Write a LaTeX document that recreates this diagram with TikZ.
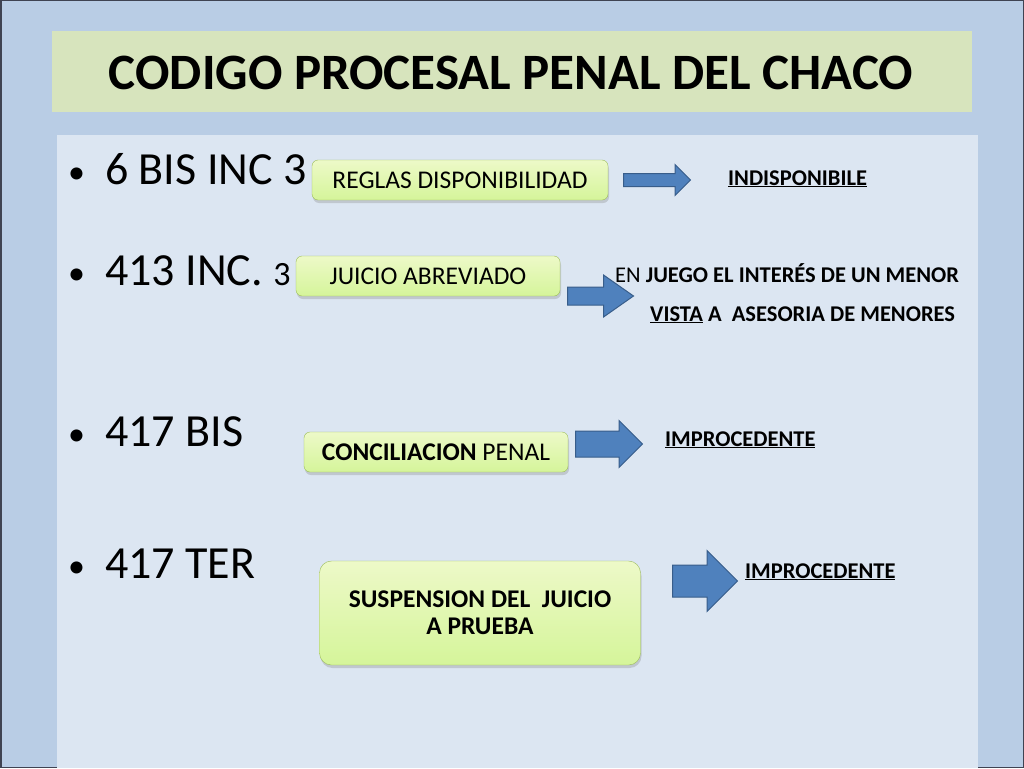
\documentclass[tikz,border=0pt]{standalone}
\usepackage{fontspec}
\setmainfont{Carlito}
\usepackage{tikz}
\usetikzlibrary{shapes.geometric, shapes.arrows, shadows}
\definecolor{slideblue}{HTML}{B9CDE5}
\definecolor{slideframe}{HTML}{3F4352}
\definecolor{panelblue}{HTML}{DCE6F2}
\definecolor{titlegreen}{HTML}{D7E4BD}
\definecolor{boxtop}{HTML}{EDF9C8}
\definecolor{boxbottom}{HTML}{D5F59A}
\definecolor{boxline}{HTML}{9BBB59}
\definecolor{arrowfill}{HTML}{4F81BD}
\definecolor{arrowline}{HTML}{385D8A}
\tikzstyle{greenbox} = [rectangle, rounded corners=6pt, draw=boxline, top color=boxtop, bottom color=boxbottom, inner sep=0pt, text centered, drop shadow={opacity=0.3, shadow xshift=1pt, shadow yshift=-3pt}, font=\fontsize{25.5}{27}\selectfont]
\tikzstyle{bluearrow} = [single arrow, draw=arrowline, fill=arrowfill, line width=1pt, inner xsep=0pt, single arrow tip angle=90, anchor=tail]
\tikzstyle{bullettext} = [anchor=base west, inner sep=0pt, font=\fontsize{46}{46}\selectfont]
\tikzstyle{result} = [anchor=base west, inner sep=0pt, font=\bfseries\fontsize{22.5}{24}\selectfont]

\begin{document}
\begin{tikzpicture}[x=1pt, y=-1pt]
    \useasboundingbox (0,0) rectangle (1024,768);
    % slide background
    \fill[slideblue] (0,0) rectangle (1024,768);
    \draw[slideframe, line width=1.5pt] (0.75,0.75) rectangle (1023.25,767.25);
    \node (panel) [rectangle, fill=panelblue, minimum width=921pt, minimum height=633pt, inner sep=0pt, anchor=north west] at (57,135) {};
    \node (titlebar) [rectangle, fill=titlegreen, minimum width=920pt, minimum height=81pt, inner sep=0pt, anchor=north west] at (52,31) {};
    \node (title) [font=\bfseries\fontsize{51}{51}\selectfont, anchor=base] at (511,89) {CODIGO PROCESAL PENAL DEL CHACO};

    % bullets
    \foreach \y/\name in {183/b1, 284/b2, 445/b3, 577/b4}
        \node (\name) [bullettext, font=\fontsize{34}{34}\selectfont] at (68,\y) {\textbullet};
    \node (bis6) [bullettext] at (105,184) {6 BIS INC 3};
    \node (inc413) [bullettext] at (105,285) {413 INC. {\fontsize{34}{34}\selectfont 3}};
    \node (bis417) [bullettext] at (105,446) {417 BIS};
    \node (ter417) [bullettext] at (105,578) {417 TER};

    % boxes
    \node (reglas) [greenbox, minimum width=296pt, minimum height=40pt] at (460,180) {REGLAS DISPONIBILIDAD};
    \node (abreviado) [greenbox, minimum width=264pt, minimum height=40pt] at (428,276) {JUICIO ABREVIADO};
    \node (conciliacion) [greenbox, minimum width=264pt, minimum height=40pt] at (436,452) {\textbf{CONCILIACION} PENAL};
    \node (suspension) [greenbox, rounded corners=12pt, minimum width=321pt, minimum height=104pt, align=center, font=\bfseries\fontsize{25.5}{27}\selectfont] at (480,613) {SUSPENSION DEL\ \ JUICIO\\A PRUEBA};

    % results
    \node (indisp) [result] at (728,185) {\underline{INDISPONIBILE}};
    \node (interes) [result] at (615,282) {\mdseries EN \bfseries JUEGO EL INTERÉS DE UN MENOR};
    \node (vista) [result] at (650,321) {\underline{VISTA} A\ \ ASESORIA DE MENORES};
    \node (improc1) [result] at (665,446) {\underline{IMPROCEDENTE}};
    \node (improc2) [result] at (745,578) {\underline{IMPROCEDENTE}};

    % block arrows
    \node (arrreglas) [bluearrow, inner ysep=6pt, single arrow head extend=9pt, minimum height=67pt] at (623,180) {};
    \node (arrabrev) [bluearrow, inner ysep=8.5pt, single arrow head extend=12pt, single arrow tip angle=70, minimum height=66pt] at (567,296) {};
    \node (arrconcil) [bluearrow, inner ysep=12.5pt, single arrow head extend=10.5pt, minimum height=67pt] at (575,444) {};
    \node (arrsusp) [bluearrow, inner ysep=15.5pt, single arrow head extend=14.5pt, minimum height=65pt] at (672,581) {};
\end{tikzpicture}
\end{document}
